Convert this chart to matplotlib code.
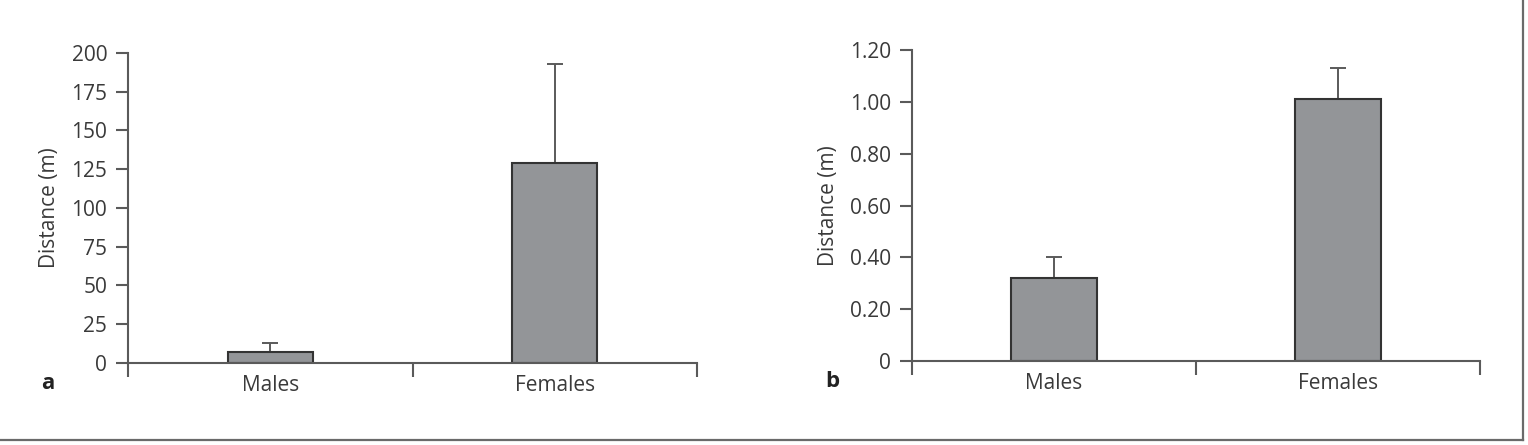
import matplotlib
matplotlib.use("Agg")
import matplotlib.pyplot as plt
from matplotlib.lines import Line2D

# values
categories = ["Males", "Females"]
dist_a = [7, 129]
err_a = [6, 64]
dist_b = [0.32, 1.01]
err_b = [0.08, 0.12]
yticks_a = [0, 25, 50, 75, 100, 125, 150, 175, 200]
yticks_b = [0, 0.2, 0.4, 0.6, 0.8, 1.0, 1.2]
ylabels_b = ["0", "0.20", "0.40", "0.60", "0.80", "1.00", "1.20"]

plt.rcParams['font.family'] = ['Open Sans', 'DejaVu Sans']
TXT = "#3a3a3a"
AX = "#5a5a5a"
FS = 15


def draw_panel(ax, vals, errs, ticks, ticklabels, ymax, letter):
    pos = [0.5, 1.5]
    ax.bar(pos, vals, width=0.3, color="#939598", edgecolor="#333333",
           linewidth=1.5, zorder=2)
    ax.errorbar(pos, vals, yerr=[[0, 0], errs], fmt="none", ecolor=AX,
                elinewidth=1.4, capsize=6, capthick=1.4, zorder=1)
    ax.set_xlim(0, 2)
    ax.set_ylim(0, ymax)
    for s in ["top", "right"]:
        ax.spines[s].set_visible(False)
    for s in ["left", "bottom"]:
        ax.spines[s].set_color(AX)
        ax.spines[s].set_linewidth(1.5)
    ax.set_yticks(ticks)
    ax.set_yticklabels(ticklabels)
    ax.set_xticks([0, 1, 2])
    ax.set_xticklabels([])
    ax.set_xticks(pos, minor=True)
    ax.set_xticklabels(categories, minor=True)
    ax.tick_params(axis="x", which="major", direction="out", length=10,
                   width=1.5, color=AX)
    ax.tick_params(axis="x", which="minor", length=0, pad=9,
                   labelsize=FS, labelcolor=TXT)
    ax.tick_params(axis="y", direction="out", length=9, width=1.5,
                   color=AX, pad=6, labelsize=FS, labelcolor=TXT)
    ax.set_ylabel("Distance (m)", fontsize=FS, color=TXT, labelpad=8)
    ax.text(-0.152, -0.065, letter, transform=ax.transAxes, fontsize=FS + 1,
            fontweight="bold", color="#222222", va="center", ha="left")


fig = plt.figure(figsize=(15.28, 4.45), dpi=100)
ax1 = fig.add_axes([0.0838, 0.1843, 0.3724, 0.6966])
ax2 = fig.add_axes([0.5969, 0.1888, 0.3717, 0.6988])

draw_panel(ax1, dist_a, err_a, yticks_a, [str(t) for t in yticks_a], 200, "a")
draw_panel(ax2, dist_b, err_b, yticks_b, ylabels_b, 1.2, "b")

# outer frame (bottom and right edges only)
fig.add_artist(Line2D([0, 0.9967], [0.0112, 0.0112], transform=fig.transFigure,
                      color="#6a6a6a", linewidth=1.6))
fig.add_artist(Line2D([0.9967, 0.9967], [0.0112, 1.0], transform=fig.transFigure,
                      color="#6a6a6a", linewidth=1.6))

fig.savefig("out.png", dpi=100)
